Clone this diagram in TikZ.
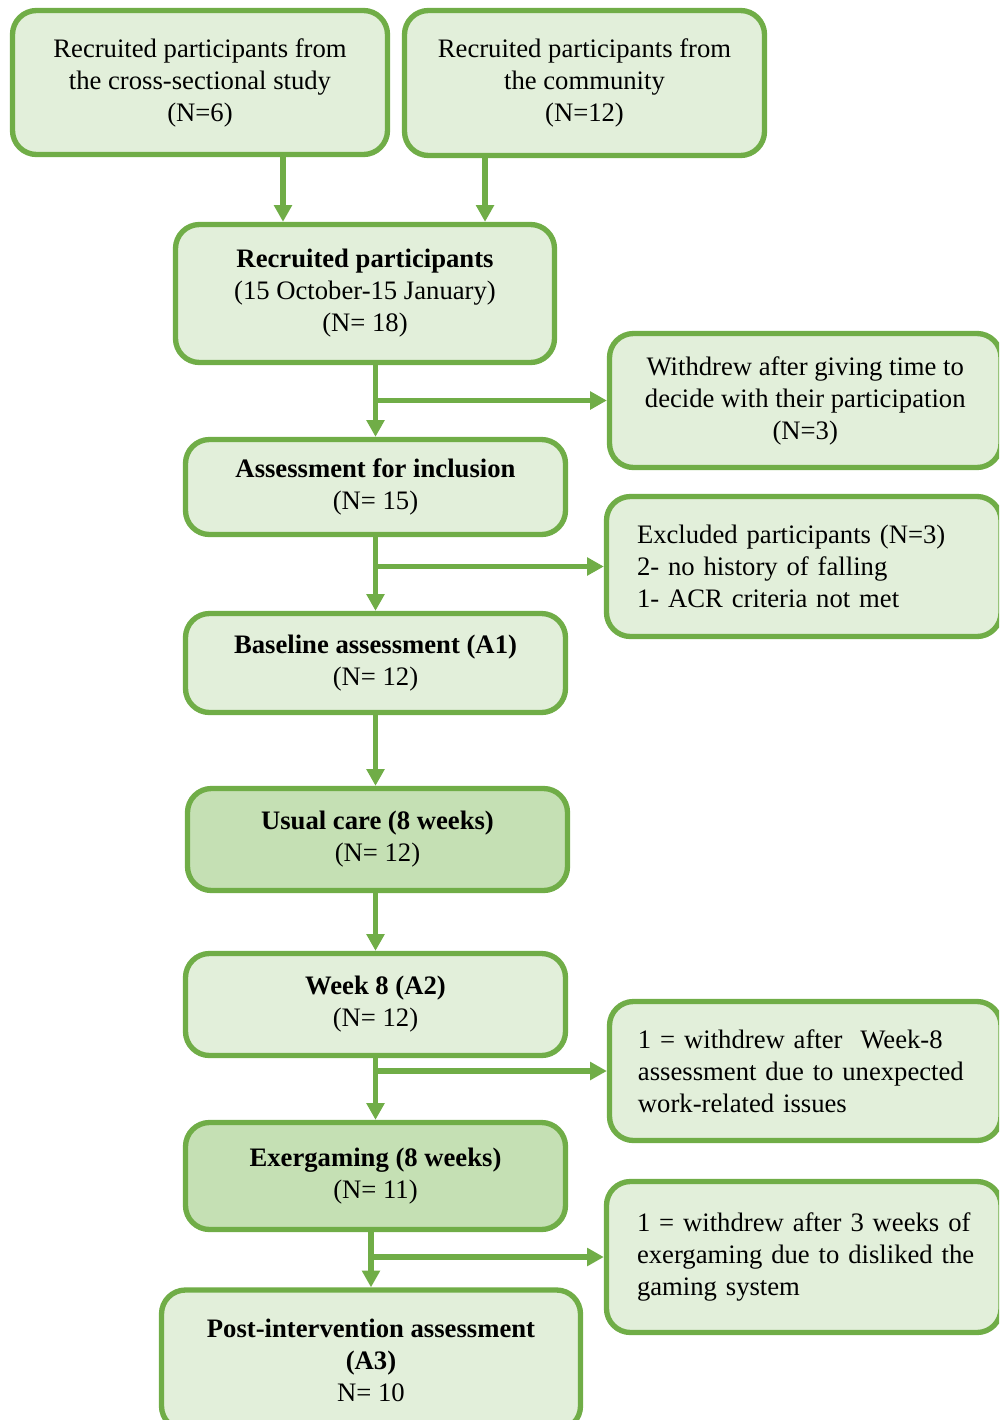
\documentclass[tikz,border=0pt]{standalone}
\usepackage{fontspec}
\setmainfont{Liberation Serif}
\usetikzlibrary{arrows.meta,calc}
\definecolor{edgegreen}{HTML}{70AD47}
\definecolor{palefill}{HTML}{E2EFDA}
\definecolor{darkfill}{HTML}{C5E0B4}
\begin{document}
\begin{tikzpicture}[x=0.75pt,y=-0.75pt,
  box/.style={draw=edgegreen, fill=palefill, line width=4pt, rounded corners=18pt,
    align=center, inner sep=0pt, font=\fontsize{20}{24}\selectfont},
  phase/.style={box, fill=darkfill},
  sidebox/.style={box, align=left},
  arr/.style={draw=edgegreen, line width=4pt, -{Triangle[length=12.5pt,width=13pt]}},
]
\useasboundingbox (0,0) rectangle (999,1420);
\clip (0,0) rectangle (999,1420);

% recruitment sources
\node[box, minimum width=281.25pt, minimum height=108pt] (src1) at (200,82.5)
  {Recruited participants from\\the cross-sectional study\\(N=6)};
\node[box, minimum width=270pt, minimum height=108.75pt] (src2) at (584.5,83)
  {Recruited participants from\\the community\\(N=12)};

% main flow
\node[box, minimum width=284.25pt, minimum height=103.5pt] (recr) at (365,293.5)
  {\textbf{Recruited participants}\\(15 October-15 January)\\(N= 18)};
\node[box, minimum width=285pt, minimum height=71.25pt] (incl) at (375.5,487)
  {\textbf{Assessment for inclusion}\\(N= 15)};
\node[box, minimum width=285pt, minimum height=74.25pt] (base) at (375.5,663)
  {\textbf{Baseline assessment (A1)}\\(N= 12)};
\node[phase, minimum width=285pt, minimum height=76.5pt] (usual) at (377.5,839.5)
  {\textbf{Usual care (8 weeks)}\\(N= 12)};
\node[box, minimum width=285pt, minimum height=76.5pt] (wk8) at (375.5,1004.5)
  {\textbf{Week 8 (A2)}\\(N= 12)};
\node[phase, minimum width=285pt, minimum height=80.25pt] (exer) at (375.5,1176)
  {\textbf{Exergaming (8 weeks)}\\(N= 11)};
\node[box, minimum width=314.25pt, minimum height=105pt] (post) at (371,1360)
  {\textbf{Post-intervention assessment}\\\textbf{(A3)}\\N= 10};

% drop-outs on the right
\node[box, minimum width=293.6pt, minimum height=100.5pt] (wdr) at (805.25,400.5)
  {Withdrew after giving time to\\decide with their participation\\(N=3)};
\node[sidebox, text width=250.1pt, minimum width=295.9pt, minimum height=105pt] (excl) at (803.75,566.5)
  {\mbox{Excluded participants (N=3)}\\\mbox{2- no history of falling}\\\mbox{1- ACR criteria not met}};
\node[sidebox, text width=250.9pt, minimum width=293.6pt, minimum height=104.25pt] (drop1) at (805.25,1071)
  {\mbox{1 = withdrew after\ \ Week-8}\\\mbox{assessment due to unexpected}\\\mbox{work-related issues}};
\node[sidebox, text width=250.1pt, minimum width=295.9pt, minimum height=113.25pt] (drop2) at (803.75,1257)
  {\mbox{1 = withdrew after 3 weeks of}\\\mbox{exergaming due to disliked the}\\\mbox{gaming system}};

% connectors
\draw[arr] ([xshift=62.25pt]src1.south) -- ([xshift=62.25pt]src1.south |- recr.north);
\draw[arr] ([xshift=-74.6pt]src2.south) -- ([xshift=-74.6pt]src2.south |- recr.north);
\draw[arr] (incl.north |- recr.south) -- (incl.north);
\draw[arr] (incl.north |- wdr.west) -- (wdr.west);
\draw[arr] (base.north |- incl.south) -- (base.north);
\draw[arr] (base.north |- excl.west) -- (excl.west);
\draw[arr] (base.south) -- (base.south |- usual.north);
\draw[arr] (wk8.north |- usual.south) -- (wk8.north);
\draw[arr] (wk8.south) -- (wk8.south |- exer.north);
\draw[arr] (wk8.south |- drop1.west) -- (drop1.west);
\draw[arr] (post.north |- exer.south) -- (post.north);
\draw[arr] (post.north |- drop2.west) -- (drop2.west);
\end{tikzpicture}
\end{document}
